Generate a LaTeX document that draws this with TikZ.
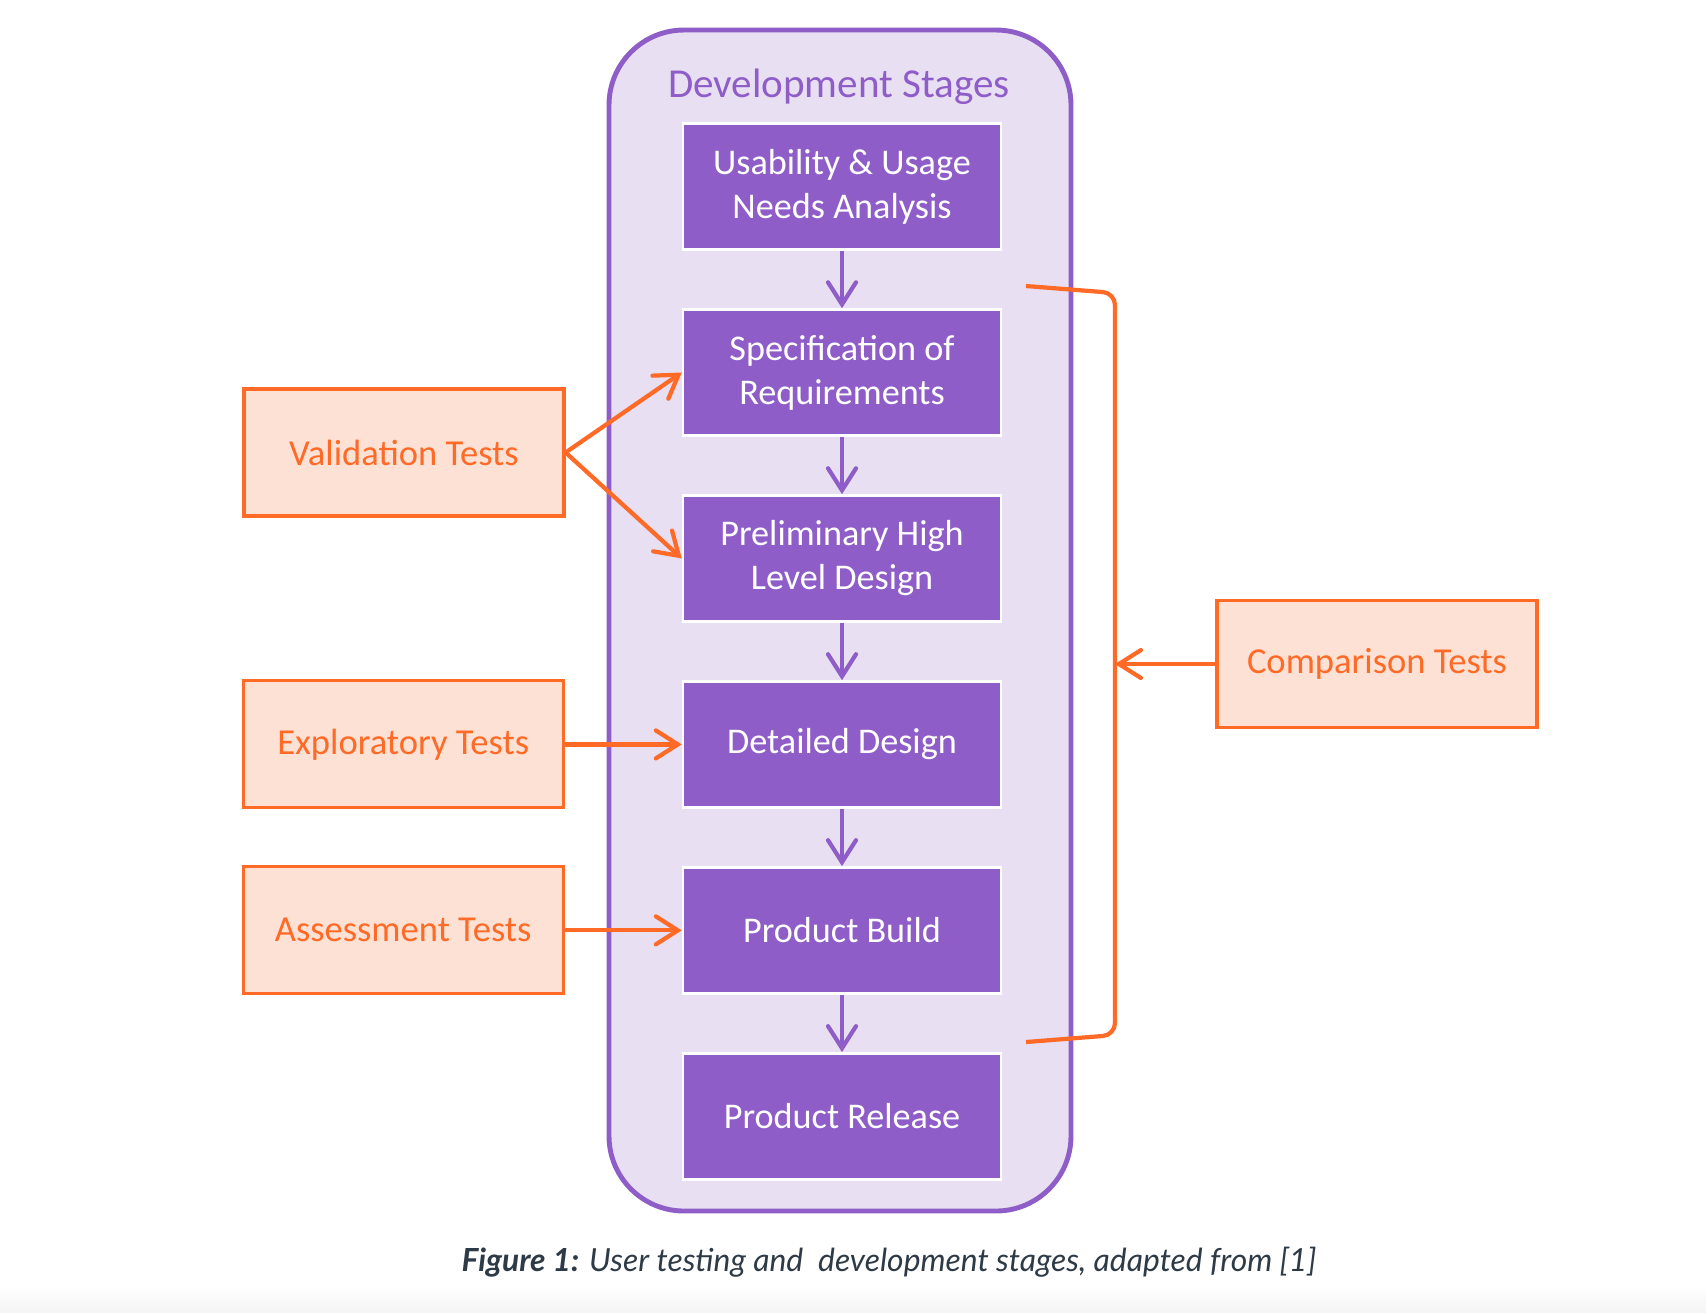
\documentclass[tikz,border=0pt]{standalone}
\usepackage{fontspec}
\setmainfont{Carlito}
\newfontfamily\capfont{Lato}
\usetikzlibrary{arrows.meta,positioning}
\definecolor{devpurple}{HTML}{8F5DC8}
\definecolor{devlight}{HTML}{E8DFF3}
\definecolor{testorange}{HTML}{FF6A26}
\definecolor{testfill}{HTML}{FDE1D5}
\definecolor{captext}{HTML}{2E3A46}
\tikzset{
    stage/.style={draw=white, line width=0.7pt, fill=devpurple, text=white, minimum width=3.18cm, minimum height=1.26cm, align=center, font=\fontsize{10.3}{12.5}\selectfont}, % development stage boxes
    test/.style={draw=testorange, line width=0.9pt, fill=testfill, text=testorange, minimum width=3.2cm, minimum height=1.27cm, font=\fontsize{10.4}{13}\selectfont}, % user test boxes
    flow/.style={devpurple, line width=1.2pt, -{Straight Barb[length=2.2mm, width=2.8mm, line cap=round]}},
    feed/.style={testorange, line width=1.2pt, -{Straight Barb[length=2.2mm, width=2.8mm, line cap=round]}}
}
\begin{document}
\begin{tikzpicture}
    \useasboundingbox (0,0) rectangle (17.06,-13.12);
    \shade[top color=white, bottom color=black!4] (0,-12.85) rectangle (17.06,-13.12);

    % panel with the stages
    \node[draw=devpurple, line width=1.4pt, fill=devlight, rounded corners=0.75cm, minimum width=4.62cm, minimum height=11.81cm] (panel) at (8.40,-6.205) {};
    \node[text=devpurple, font=\fontsize{11.7}{14}\selectfont] (title) at (8.39,-0.87) {Development Stages};

    \node[stage] (needs) at (8.42,-1.865) {Usability \& Usage\\Needs Analysis};
    \node[stage, below=0.575cm of needs] (spec) {Specification of\\Requirements};
    \node[stage, below=0.575cm of spec] (prelim) {Preliminary High\\Level Design};
    \node[stage, below=0.575cm of prelim] (detail) {Detailed Design};
    \node[stage, below=0.575cm of detail] (build) {Product Build};
    \node[stage, below=0.575cm of build] (release) {Product Release};

    \foreach \a/\b in {needs/spec, spec/prelim, prelim/detail, detail/build, build/release}
        \draw[flow] (\a) -- (\b);

    % tests
    \node[test] (valid) at (4.04,-4.525) {Validation Tests};
    \node[test, left=1.17cm of detail] (explore) {Exploratory Tests};
    \node[test, left=1.17cm of build] (assess) {Assessment Tests};
    \node[test] (compare) at (13.77,-6.64) {Comparison Tests};

    \draw[feed] (valid.east) -- (spec.west);
    \draw[feed] (valid.east) -- (prelim.west);
    \draw[feed] (explore) -- (detail);
    \draw[feed] (assess) -- (build);

    % bracket
    \coordinate (brtop) at (10.26,-2.86);
    \coordinate (brbot) at (10.26,-10.42);
    \coordinate (brmid) at (11.15,-6.64);
    \draw[testorange, line width=1.2pt, rounded corners=0.12cm] (brtop) -- (11.15,-2.93) -- (11.15,-10.35) -- (brbot);
    \draw[feed] (compare) -- (brmid);

    \node[text=captext, font=\capfont\fontsize{9.05}{11}\selectfont\itshape] (caption) at (8.89,-12.62) {\textbf{Figure 1:} User testing and~ development stages, adapted from [1]};
\end{tikzpicture}
\end{document}
